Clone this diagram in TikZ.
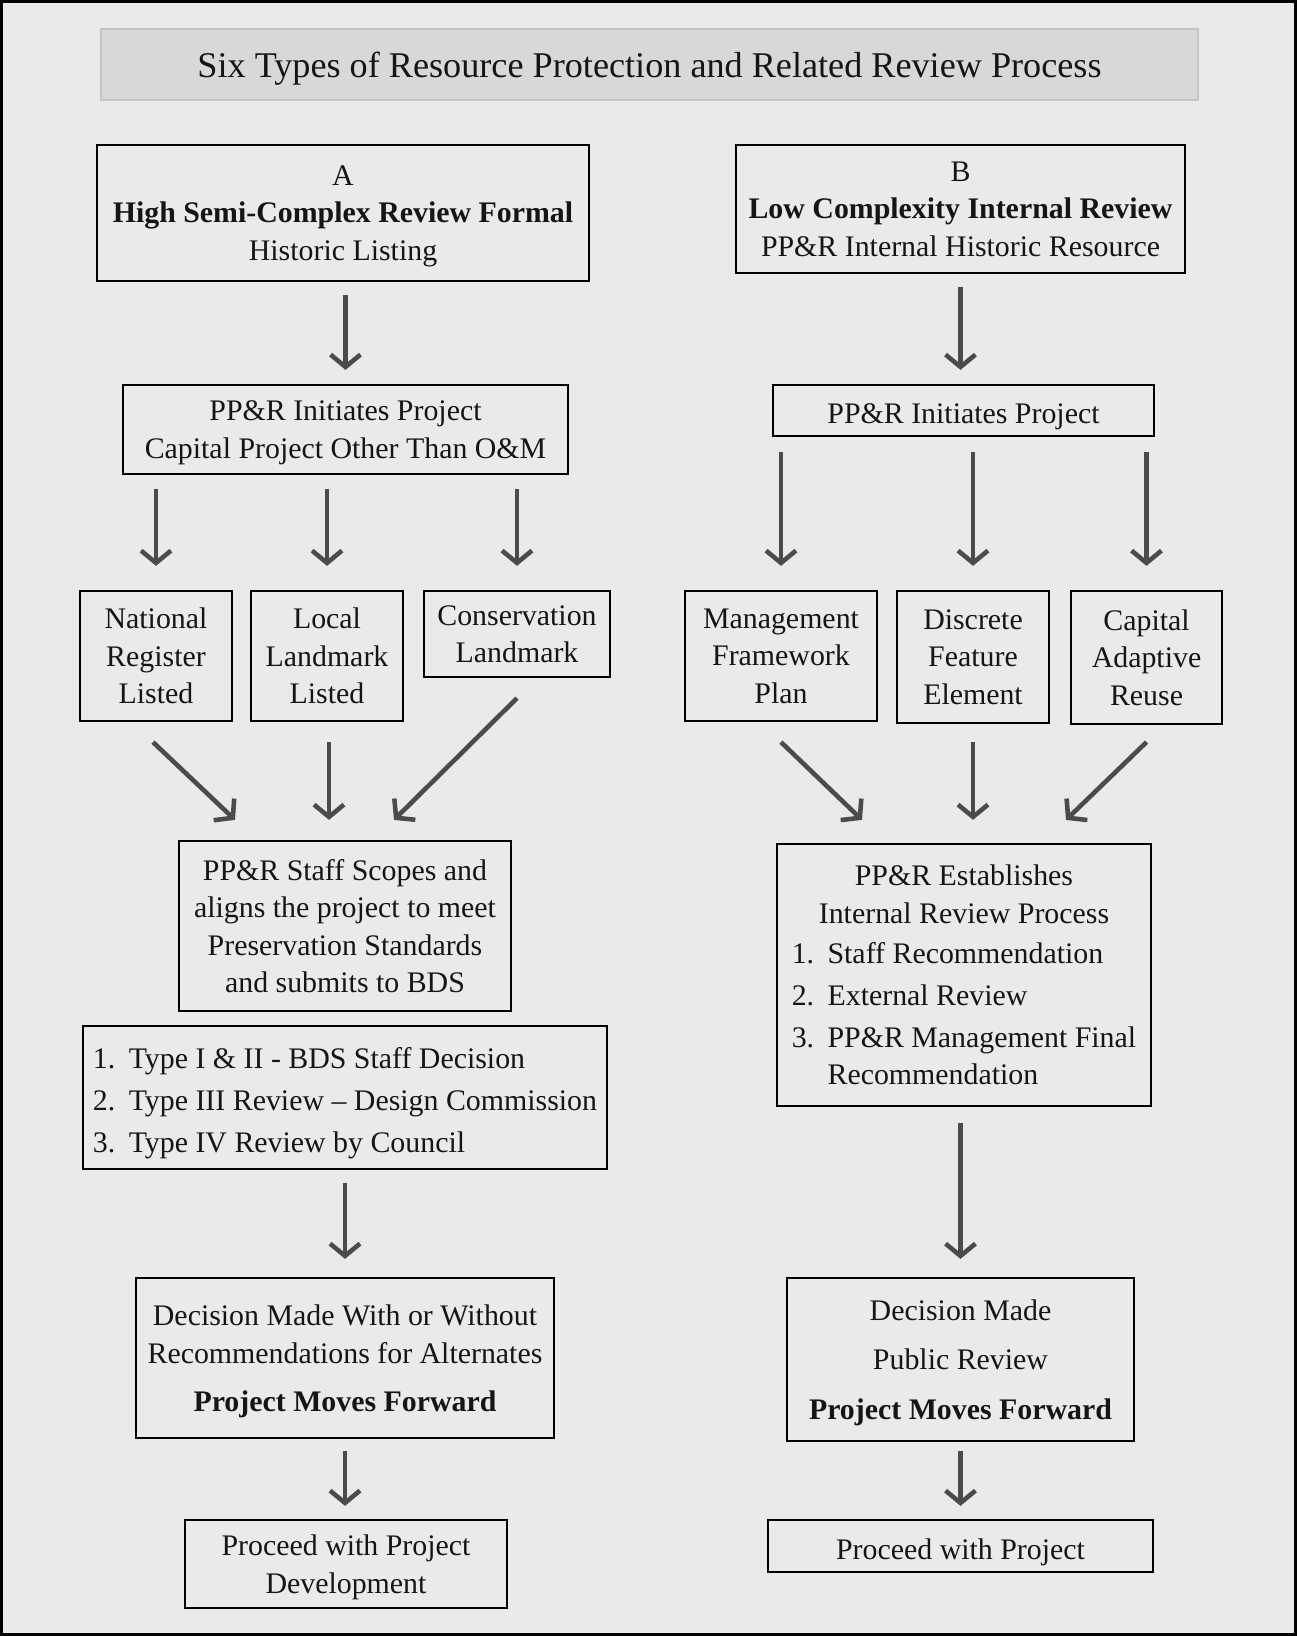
\documentclass[tikz,border=0pt]{standalone}
\usepackage{fontspec}
\setmainfont{Liberation Serif}
\usetikzlibrary{arrows.meta}
\usetikzlibrary{calc}
\definecolor{pagebg}{HTML}{EAEAEA}
\definecolor{titlefill}{HTML}{D8D8D8}
\definecolor{titleline}{HTML}{C4C4C4}
\definecolor{arrowgrey}{HTML}{4B4B4B}
\definecolor{inkdark}{HTML}{151515}

\begin{document}
\begin{tikzpicture}[x=0.02cm, y=-0.02cm,
  box/.style={draw=black, line width=1.3pt, align=center, inner sep=0pt, text=inkdark,
    text depth=0pt, execute at begin node={\rule{0pt}{15pt}}, font=\fontsize{17}{21.3}\selectfont},
  titlebox/.style={fill=titlefill, draw=titleline, line width=1.5pt, inner sep=0pt, text=inkdark, text depth=0pt,
    minimum width=21.94cm, minimum height=1.42cm, font=\fontsize{20.6}{24}\selectfont},
  arr/.style={draw=arrowgrey, line width=2.6pt,
    -{Straight Barb[length=7pt, width=17pt, line width=2.6pt]}}]

  \useasboundingbox (0,0) rectangle (1297,1636);
  \draw[fill=pagebg, line width=1.7pt] (1.5,1.5) rectangle (1295.5,1634.5);

  \node[titlebox] (title) at (649.5,64.5) {Six Types of Resource Protection and Related Review Process};

  \node[box, minimum width=9.84cm, minimum height=2.72cm] (hdA) at (343,213)
    {A\\ \textbf{High Semi-Complex Review Formal}\\ Historic Listing};
  \node[box, minimum width=8.98cm, minimum height=2.56cm] (hdB) at (960.5,209)
    {B\\ \textbf{Low Complexity Internal Review}\\ PP\&R Internal Historic Resource};

  \node[box, minimum width=8.9cm, minimum height=1.78cm] (initA) at (345.5,429.5)
    {PP\&R Initiates Project\\ Capital Project Other Than O\&M};
  \node[box, minimum width=7.62cm, minimum height=1.02cm] (initB) at (963.5,410.5)
    {PP\&R Initiates Project};

  \node[box, minimum width=3.04cm, minimum height=2.6cm] (natl) at (156,656) {National\\ Register\\ Listed};
  \node[box, minimum width=3.04cm, minimum height=2.6cm] (local) at (327,656) {Local\\ Landmark\\ Listed};
  \node[box, minimum width=3.72cm, minimum height=1.72cm] (cons) at (517,634) {Conservation\\ Landmark};

  \node[box, minimum width=3.84cm, minimum height=2.6cm] (mgmt) at (781,656) {Management\\ Framework\\ Plan};
  \node[box, minimum width=3.04cm, minimum height=2.64cm] (disc) at (973,657) {Discrete\\ Feature\\ Element};
  \node[box, minimum width=3.02cm, minimum height=2.66cm] (capad) at (1146.5,657.5) {Capital\\ Adaptive\\ Reuse};

  \node[box, minimum width=6.64cm, minimum height=3.4cm] (staff) at (345,926)
    {PP\&R Staff Scopes and\\ aligns the project to meet\\ Preservation Standards\\ and submits to BDS};
  \node[box, minimum width=10.48cm, minimum height=2.86cm] (types) at (345,1097.5)
    {\begin{tabular}[b]{@{}l@{\hspace{0.45em}}l@{}}
      1. & Type I \& II - BDS Staff Decision\\[2.5pt]
      2. & Type III Review -- Design Commission\\[2.5pt]
      3. & Type IV Review by Council
    \end{tabular}};

  \node[box, minimum width=7.48cm, minimum height=5.24cm] (estab) at (964,975)
    {PP\&R Establishes\\ Internal Review Process\\[7pt]
     \begin{tabular}[b]{@{}l@{\hspace{0.45em}}l@{}}
      1. & Staff Recommendation\\[2.5pt]
      2. & External Review\\[2.5pt]
      3. & PP\&R Management Final\\
         & Recommendation
    \end{tabular}};

  \node[box, minimum width=8.36cm, minimum height=3.2cm] (decA) at (345,1358)
    {Decision Made With or Without\\ Recommendations for Alternates\\[6pt] \textbf{Project Moves Forward}};
  \node[box, minimum width=6.94cm, minimum height=3.26cm] (decB) at (960.5,1359.5)
    {Decision Made\\[7pt] Public Review\\[7pt] \textbf{Project Moves Forward}};

  \node[box, minimum width=6.44cm, minimum height=1.76cm] (procA) at (346,1564) {Proceed with Project\\ Development};
  \node[box, minimum width=7.7cm, minimum height=1.04cm] (procB) at (960.5,1546) {Proceed with Project};

  \draw[arr, shorten <=0.26cm, shorten >=0.28cm] (initA.north |- hdA.south) -- (initA.north);
  \draw[arr, shorten <=0.26cm, shorten >=0.28cm] (hdB.south) -- (hdB.south |- initB.north);

  \draw[arr, shorten <=0.28cm, shorten >=0.48cm] (natl.north |- initA.south) -- (natl.north);
  \draw[arr, shorten <=0.28cm, shorten >=0.48cm] (local.north |- initA.south) -- (local.north);
  \draw[arr, shorten <=0.28cm, shorten >=0.48cm] (cons.north |- initA.south) -- (cons.north);
  \draw[arr, shorten <=0.3cm, shorten >=0.48cm] (mgmt.north |- initB.south) -- (mgmt.north);
  \draw[arr, shorten <=0.3cm, shorten >=0.48cm] (disc.north |- initB.south) -- (disc.north);
  \draw[arr, shorten <=0.3cm, shorten >=0.48cm] (capad.north |- initB.south) -- (capad.north);

  \draw[arr] ($(natl.south)+(-3,20)$) -- ($(staff.north)+(-110,-20)$);
  \draw[arr] ($(local.south)+(2,20)$) -- ($(staff.north)+(-16,-20)$);
  \draw[arr] ($(cons.south)+(0,20)$) -- ($(staff.north)+(49,-20)$);
  \draw[arr] ($(mgmt.south)+(0,20)$) -- ($(estab.north)+(-102,-23)$);
  \draw[arr] ($(disc.south)+(0,18)$) -- ($(estab.north)+(9,-23)$);
  \draw[arr] ($(capad.south)+(0,17)$) -- ($(estab.north)+(102,-23)$);

  \draw[arr, shorten <=0.26cm, shorten >=0.36cm] (types.south) -- (types.south |- decA.north);
  \draw[arr, shorten <=0.32cm, shorten >=0.36cm] (decB.north |- estab.south) -- (decB.north);
  \draw[arr, shorten <=0.24cm, shorten >=0.26cm] (decA.south) -- (decA.south |- procA.north);
  \draw[arr, shorten <=0.18cm, shorten >=0.26cm] (decB.south) -- (procB.north);

\end{tikzpicture}
\end{document}
